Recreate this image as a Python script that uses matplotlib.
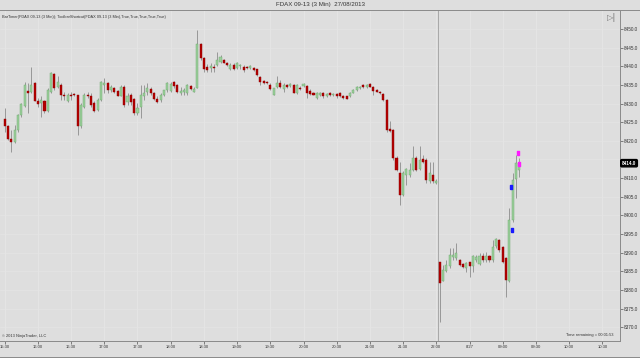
import numpy as np
import matplotlib
matplotlib.use('Agg')
import matplotlib.pyplot as plt
from matplotlib.transforms import blended_transform_factory

plt.rcParams['font.family'] = ['Liberation Sans', 'DejaVu Sans']

# FDAX 09-13, 3 min bars (bar index -> x)
opens = [8425.9, 8423.9, 8420.5, 8419.8, 8423.0, 8427.0, 8429.4, 8433.5, 8433.1, 8435.5,
         8430.8, 8430.1, 8430.6, 8427.9, 8433.2, 8438.0, 8434.4, 8435.0, 8432.3, 8430.8,
         8432.3, 8432.3, 8432.2, 8423.9, 8429.2, 8432.3, 8431.9, 8430.1, 8428.3, 8431.0,
         8435.0, 8435.5, 8433.6, 8434.1, 8433.4, 8432.0, 8434.5, 8430.3, 8432.3, 8431.2,
         8427.4, 8429.2, 8432.1, 8433.2, 8433.9, 8432.9, 8431.2, 8431.0, 8432.3, 8433.6,
         8433.4, 8435.7, 8435.0, 8432.7, 8433.2, 8432.7, 8434.8, 8433.2, 8434.3, 8445.9,
         8442.3, 8439.9, 8439.6, 8439.9, 8440.4, 8441.2, 8441.7, 8441.0, 8439.2, 8440.4,
         8439.5, 8440.0, 8439.9, 8439.9, 8439.5, 8439.5, 8439.2, 8437.2, 8436.1, 8435.9,
         8435.0, 8432.3, 8434.5, 8435.4, 8433.8, 8435.0, 8434.7, 8435.0, 8432.7, 8434.2,
         8434.7, 8434.7, 8433.5, 8432.8, 8431.4, 8432.4, 8432.9, 8432.0, 8432.8, 8432.2,
         8432.6, 8432.9, 8432.0, 8431.9, 8432.0, 8432.9, 8433.6, 8434.1, 8435.0, 8434.5,
         8435.3, 8434.5, 8433.6, 8433.2, 8432.6, 8431.0, 8423.1, 8422.9, 8415.3, 8411.3,
         8405.5, 8410.9, 8410.9, 8412.2, 8415.3, 8412.4, 8415.1, 8414.9, 8409.1, 8410.9,
         8408.8, 8387.6, 8382.5, 8385.2, 8386.3, 8388.8, 8388.5, 8387.9, 8387.0, 8385.8,
         8387.4, 8386.3, 8388.0, 8387.0, 8389.0, 8387.9, 8389.0, 8387.9, 8391.8, 8393.4,
         8391.6, 8388.5, 8382.3, 8398.8, 8409.7, 8412.2]
highs = [8428.8, 8424.3, 8423.0, 8424.3, 8427.2, 8430.1, 8435.9, 8435.5, 8439.9, 8435.7,
         8431.5, 8431.9, 8431.0, 8434.1, 8438.6, 8438.1, 8437.3, 8435.5, 8433.2, 8432.8,
         8433.2, 8432.8, 8432.3, 8430.1, 8432.8, 8433.2, 8432.8, 8430.6, 8431.5, 8436.1,
         8436.8, 8435.9, 8435.0, 8434.5, 8433.6, 8435.0, 8435.0, 8432.7, 8432.7, 8431.4,
         8430.1, 8435.0, 8435.0, 8435.4, 8434.5, 8433.2, 8431.9, 8432.7, 8433.6, 8435.9,
         8435.7, 8436.1, 8435.2, 8434.5, 8434.1, 8435.2, 8435.0, 8434.5, 8449.7, 8446.2,
         8442.6, 8440.5, 8440.8, 8440.5, 8443.9, 8443.0, 8442.0, 8441.2, 8440.8, 8440.8,
         8441.2, 8440.6, 8440.4, 8440.2, 8440.4, 8439.7, 8439.4, 8437.4, 8436.4, 8436.1,
         8435.4, 8434.3, 8437.4, 8436.3, 8435.6, 8435.3, 8435.5, 8435.3, 8435.2, 8434.6,
         8435.6, 8435.0, 8433.9, 8433.0, 8433.2, 8433.1, 8433.2, 8432.9, 8433.2, 8432.7,
         8432.9, 8433.1, 8432.3, 8432.1, 8433.1, 8433.8, 8434.8, 8434.8, 8435.2, 8435.2,
         8435.4, 8434.7, 8433.8, 8433.4, 8432.8, 8431.2, 8425.2, 8423.1, 8415.8, 8414.4,
         8411.8, 8412.6, 8414.0, 8418.5, 8415.8, 8418.5, 8416.2, 8415.3, 8414.4, 8414.4,
         8409.8, 8387.6, 8386.7, 8388.0, 8391.2, 8391.2, 8392.5, 8388.2, 8387.2, 8387.6,
         8387.6, 8389.4, 8389.3, 8389.9, 8389.9, 8390.3, 8389.4, 8393.4, 8393.9, 8393.6,
         8391.8, 8388.9, 8401.9, 8411.3, 8416.2, 8415.3]
lows = [8422.5, 8420.2, 8416.9, 8419.4, 8422.5, 8426.5, 8429.2, 8427.4, 8432.8, 8430.6,
        8429.2, 8426.5, 8427.4, 8427.7, 8432.8, 8433.7, 8434.1, 8431.0, 8431.0, 8430.3,
        8431.0, 8431.9, 8421.6, 8423.4, 8428.8, 8431.5, 8429.2, 8427.7, 8427.9, 8430.8,
        8432.8, 8432.8, 8433.2, 8432.7, 8431.9, 8431.9, 8429.2, 8429.6, 8429.6, 8427.0,
        8427.0, 8426.1, 8431.0, 8432.3, 8432.3, 8431.0, 8430.1, 8430.5, 8432.1, 8433.2,
        8433.2, 8434.1, 8432.7, 8432.3, 8432.3, 8432.3, 8433.6, 8433.2, 8434.1, 8441.7,
        8438.4, 8438.6, 8438.6, 8438.6, 8440.2, 8441.0, 8440.8, 8440.0, 8439.0, 8439.0,
        8439.2, 8439.2, 8438.6, 8439.2, 8439.2, 8438.8, 8437.5, 8435.0, 8435.3, 8435.2,
        8433.6, 8432.3, 8434.1, 8434.1, 8433.2, 8434.2, 8434.4, 8432.8, 8432.5, 8433.6,
        8434.4, 8431.4, 8432.2, 8432.2, 8431.2, 8432.1, 8431.6, 8431.8, 8432.1, 8432.0,
        8431.6, 8431.7, 8431.1, 8431.1, 8431.8, 8432.7, 8433.4, 8433.9, 8434.3, 8434.3,
        8434.4, 8432.3, 8433.0, 8432.6, 8430.8, 8422.5, 8422.5, 8414.9, 8411.8, 8402.8,
        8405.1, 8408.2, 8410.4, 8411.8, 8411.8, 8412.2, 8414.0, 8408.6, 8408.6, 8408.6,
        8408.5, 8371.3, 8382.3, 8384.9, 8385.8, 8388.1, 8388.1, 8386.4, 8385.8, 8384.9,
        8383.6, 8384.9, 8387.6, 8386.7, 8387.6, 8387.6, 8387.6, 8387.6, 8391.2, 8390.3,
        8387.3, 8378.2, 8382.0, 8398.3, 8404.6, 8410.4]
closes = [8423.9, 8420.5, 8419.8, 8423.0, 8427.0, 8429.8, 8435.0, 8432.8, 8435.0, 8430.8,
          8429.9, 8431.0, 8427.9, 8433.7, 8438.3, 8434.1, 8435.7, 8432.3, 8431.9, 8432.3,
          8431.9, 8432.2, 8423.9, 8429.7, 8432.3, 8431.9, 8429.7, 8427.9, 8431.0, 8435.9,
          8435.5, 8433.7, 8434.5, 8433.2, 8432.1, 8434.5, 8429.6, 8431.9, 8430.3, 8427.4,
          8428.9, 8432.3, 8432.9, 8434.1, 8432.9, 8431.2, 8430.3, 8432.3, 8433.6, 8435.4,
          8435.2, 8434.8, 8433.2, 8433.4, 8433.6, 8435.0, 8433.9, 8433.9, 8445.9, 8442.1,
          8439.3, 8439.0, 8440.2, 8439.5, 8441.7, 8442.6, 8441.0, 8440.4, 8440.4, 8439.2,
          8440.8, 8440.4, 8439.0, 8439.5, 8440.1, 8439.0, 8437.7, 8435.9, 8435.6, 8435.4,
          8433.8, 8434.1, 8435.4, 8434.4, 8435.0, 8434.5, 8435.2, 8432.9, 8435.0, 8433.8,
          8435.2, 8432.7, 8432.6, 8432.4, 8432.9, 8432.8, 8431.9, 8432.6, 8432.3, 8432.5,
          8431.9, 8431.9, 8431.4, 8431.3, 8432.9, 8433.6, 8434.5, 8434.5, 8434.5, 8435.0,
          8434.5, 8433.5, 8433.2, 8432.8, 8431.0, 8422.9, 8422.7, 8415.3, 8412.2, 8405.5,
          8411.3, 8412.4, 8412.2, 8415.3, 8412.2, 8414.9, 8414.4, 8409.5, 8411.3, 8409.1,
          8409.3, 8381.8, 8385.4, 8386.7, 8389.4, 8389.4, 8389.9, 8386.7, 8386.1, 8387.2,
          8386.5, 8389.0, 8388.8, 8389.1, 8387.9, 8389.0, 8387.9, 8391.5, 8393.6, 8390.7,
          8387.6, 8382.7, 8398.8, 8409.5, 8414.0, 8414.0]

tick_idx = [0, 10, 20, 30, 40, 50, 60, 70, 80, 90, 100, 110, 120, 130, 140, 150, 160, 170, 180]
tick_labels = ['15:30', '16:00', '16:30', '17:00', '17:30', '18:00', '18:30', '19:00', '19:30',
               '20:00', '20:30', '21:00', '21:30', '22:00', '8/27', '09:00', '09:30', '10:00', '10:30']
price_ticks = np.arange(8370, 8451, 5)

# signal markers
marker_idx = [152.6, 152.7, 154.7, 154.9]
marker_price = [8407.6, 8396.1, 8416.7, 8413.7]
marker_color = ['#1a1aff', '#1a1aff', '#ff1aff', '#ff1aff']

last_price = 8414.0
session_break = 130.5

o = np.array(opens)
h = np.array(highs)
l = np.array(lows)
c = np.array(closes)
idx = np.arange(len(o))
up = c >= o

bg = '#dedede'
fig = plt.figure(figsize=(6.4, 3.58), dpi=100, facecolor=bg)
ax = fig.add_axes([0.0, 17 / 358, 620 / 640, 331 / 358], facecolor=bg)

ax.set_xlim(-1.4, 185.3)
ax.set_ylim(8366.3, 8455.1)

# faint grid
for t in tick_idx:
    ax.axvline(t, color='#e6e6e6', lw=0.6, zorder=0)
for p in price_ticks:
    ax.axhline(p, color='#e4e4e4', lw=0.5, zorder=0)
ax.axvline(session_break, color='#a8a8a8', lw=0.7, zorder=1)

ax.vlines(idx, l, h, color='#8c8c8c', lw=0.6, zorder=2)
body = np.maximum(np.abs(c - o), 0.25)
ax.bar(idx[up], body[up], bottom=o[up], width=0.62, color='#9ccf9c',
       edgecolor='#6aa86a', lw=0.3, zorder=3)
ax.bar(idx[~up], body[~up], bottom=c[~up], width=0.62, color='#b40000',
       edgecolor='#8a0000', lw=0.3, zorder=3)

rect = [(-0.5, -1), (0.5, -1), (0.5, 1), (-0.5, 1), (-0.5, -1)]
for mx, my, mc in zip(marker_idx, marker_price, marker_color):
    ax.plot([mx], [my], marker=rect, markersize=3.2, color=mc, mec=mc, zorder=4)

# axes styling
ax.spines['left'].set_visible(False)
for s in ['right', 'bottom', 'top']:
    ax.spines[s].set_color('#8a8a8a')
    ax.spines[s].set_linewidth(0.7)
ax.yaxis.tick_right()
ax.set_yticks(price_ticks)
# the 8415.0 label sits under the current price box
ax.set_yticklabels(['' if abs(p - last_price) < 2.5 else f'{p:.1f}' for p in price_ticks])
ax.set_xticks(tick_idx)
ax.set_xticklabels(tick_labels)
ax.tick_params(axis='y', labelsize=3.3, length=2, width=0.5, color='#555555',
               labelcolor='#333333', pad=1)
ax.tick_params(axis='x', labelsize=3.0, length=2, width=0.5, color='#555555',
               labelcolor='#333333', pad=1)

# current price box
tr = blended_transform_factory(ax.transAxes, ax.transData)
ax.text(1.003, last_price, f'{last_price:.1f}', transform=tr, fontsize=3.3,
        color='white', fontweight='bold', va='center', ha='left',
        bbox=dict(boxstyle='round,pad=0.25', fc='black', ec='black'))

# texts
fig.text(0.5, 1 - 4.5 / 358, 'FDAX 09-13 (3 Min)  27/08/2013', ha='center', va='center',
         fontsize=4.4, color='#333333')
ax.text(0.003, 0.985, 'BarTimer(FDAX 09-13 (3 Min)); ToolbarShortcut(FDAX 09-13 (3 Min),True,True,True,True,True)',
        transform=ax.transAxes, fontsize=2.8, color='#333333', va='top', ha='left')
ax.text(0.003, 0.008, '© 2013 NinjaTrader, LLC', transform=ax.transAxes, fontsize=2.9,
        color='#333333', va='bottom', ha='left')
ax.text(0.99, 0.012, 'Time remaining = 00:01:53', transform=ax.transAxes, fontsize=2.9,
        color='#333333', va='bottom', ha='right')
fig.text(612 / 640, 1 - 17 / 358, '▷|', ha='center', va='center', fontsize=6,
         color='#777777', family=['DejaVu Sans'])

# frame lines around the chart
fig.add_artist(plt.Line2D([620 / 640, 1], [1 - 10 / 358] * 2, color='#8a8a8a', lw=0.7))
fig.add_artist(plt.Line2D([0, 1], [1.5 / 358] * 2, color='#8a8a8a', lw=0.7))

fig.savefig('out.png', dpi=100, facecolor=bg)
